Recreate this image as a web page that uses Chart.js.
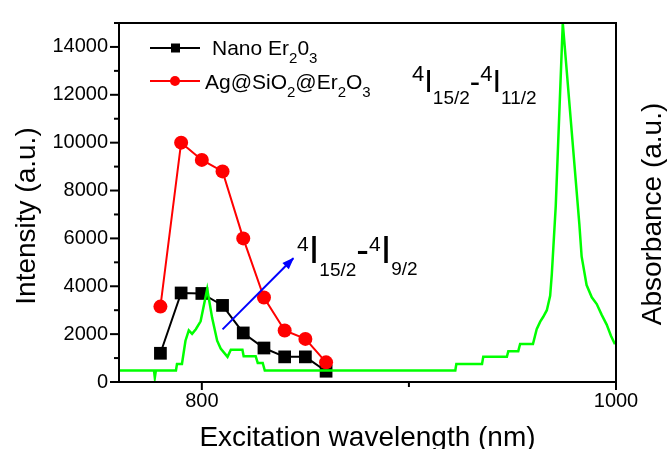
<!DOCTYPE html>
<html lang="en">
<head>
<meta charset="UTF-8">
<title>Excitation spectrum • Er2O3</title>
<script src="https://cdn.jsdelivr.net/npm/chart.js"></script>
<style>
  html, body { margin: 0; padding: 0; background: #fff; }
</style>
</head>
<body>
<canvas id="chart" width="667" height="449"></canvas>
<script>
// excitation wavelengths (nm) for both samples
const wavelengths = [780, 790, 800, 810, 820, 830, 840, 850, 860];
const nanoEr2O3   = [1200, 3720, 3700, 3200, 2050, 1420, 1050, 1050, 450];
const agSiO2Er2O3 = [3150, 10000, 9280, 8800, 6000, 3530, 2150, 1800, 820];

// absorbance trace (a.u., normalised to the 975 nm peak)
const absWl  = [760, 776.9, 777.3, 777.8, 787.5, 788, 790.4, 792.1, 793.7, 795.3, 797.1, 799.4,
                802.6, 805, 807.4, 809.1, 812.4, 814, 819.6, 820.2, 826, 827, 829.4, 830.4,
                922.4, 922.9, 935.3, 935.9, 947.3, 948, 952.8, 953.7, 959.9, 961.7, 963.4,
                964.8, 966.6, 968.2, 969, 969.8, 970.9, 974.3, 982.3, 983.4, 985.8, 988.3,
                990.7, 993.1, 995.5, 997.6, 999.5];
const absVal = [0.032, 0.032, 0.012, 0.032, 0.032, 0.05, 0.05, 0.115, 0.144, 0.134, 0.147, 0.169,
                0.259, 0.178, 0.115, 0.093, 0.07, 0.09, 0.09, 0.072, 0.072, 0.053, 0.053, 0.032,
                0.032, 0.05, 0.05, 0.07, 0.07, 0.086, 0.086, 0.106, 0.106, 0.147, 0.168,
                0.181, 0.2, 0.24, 0.3, 0.38, 0.49, 1.0, 0.44, 0.35, 0.27, 0.236,
                0.217, 0.187, 0.16, 0.128, 0.105];

// blue arrow towards the 4I15/2-4I9/2 band
const arrowWl  = [810, 844.2];
const arrowInt = [2200, 5170];

const xTicks = [800, 900, 1000];
const xLabelled = [800, 1000];
const yTicks = [0, 2000, 4000, 6000, 8000, 10000, 12000, 14000];

const FONT = '"Liberation Sans", Arial, sans-serif';
const pts = (xs, ys) => xs.map((v, i) => ({x: v, y: ys[i]}));

function richText(ctx, x, y, parts) {
  // parts: [text, font size, baseline shift]
  ctx.textAlign = 'left';
  ctx.textBaseline = 'alphabetic';
  for (const [t, size, dy] of parts) {
    ctx.font = size + 'px ' + FONT;
    ctx.fillText(t, x, y + dy);
    x += ctx.measureText(t).width;
  }
}

function seg(ctx, x1, y1, x2, y2) {
  ctx.beginPath(); ctx.moveTo(x1, y1); ctx.lineTo(x2, y2); ctx.stroke();
}

const decor = {
  id: 'decor',
  afterDatasetsDraw(chart) {
    // arrow head on the blue line
    const {ctx} = chart;
    const m = chart.getDatasetMeta(3).data;
    const p0 = m[0], p1 = m[1];
    const ang = Math.atan2(p1.y - p0.y, p1.x - p0.x);
    ctx.save();
    ctx.translate(p1.x, p1.y);
    ctx.rotate(ang);
    ctx.fillStyle = '#0000ff';
    ctx.beginPath();
    ctx.moveTo(1, 0); ctx.lineTo(-11, -4.5); ctx.lineTo(-11, 4.5);
    ctx.closePath(); ctx.fill();
    ctx.restore();
  },
  afterDraw(chart) {
    const {ctx, chartArea: a, scales: {x, y}} = chart;
    ctx.save();
    ctx.strokeStyle = '#000';
    ctx.fillStyle = '#000';
    ctx.lineWidth = 2;
    ctx.strokeRect(a.left, a.top, a.right - a.left, a.bottom - a.top);

    // ticks, outward
    for (let v = 0; v <= 15000; v += 1000) {
      const py = y.getPixelForValue(v);
      seg(ctx, a.left - (v % 2000 ? 5 : 9), py, a.left, py);
    }
    for (const v of xTicks) {
      const px = x.getPixelForValue(v);
      seg(ctx, px, a.bottom, px, a.bottom + (xLabelled.includes(v) ? 8 : 5));
    }

    // axis titles
    ctx.font = '28px ' + FONT;
    ctx.textAlign = 'center';
    ctx.textBaseline = 'alphabetic';
    ctx.fillText('Excitation wavelength (nm)', (a.left + a.right) / 2, 446);
    ctx.save(); ctx.translate(35, 216); ctx.rotate(-Math.PI / 2);
    ctx.fillText('Intensity (a.u.)', 0, 0); ctx.restore();
    ctx.save(); ctx.translate(661, 214); ctx.rotate(-Math.PI / 2);
    ctx.fillText('Absorbance (a.u.)', 0, 0); ctx.restore();

    // legend
    const lx = a.left + 31, ly1 = a.top + 25, ly2 = a.top + 58;
    ctx.lineWidth = 2;
    ctx.strokeStyle = '#000';
    seg(ctx, lx, ly1, lx + 50, ly1);
    ctx.fillRect(lx + 21, ly1 - 4.5, 9, 9);
    ctx.strokeStyle = '#ff0000'; ctx.fillStyle = '#ff0000';
    seg(ctx, lx, ly2, lx + 50, ly2);
    ctx.beginPath(); ctx.arc(lx + 25, ly2, 5, 0, Math.PI * 2); ctx.fill();
    ctx.fillStyle = '#000';
    richText(ctx, lx + 62, ly1 + 7, [['Nano Er', 21, 0], ['2', 15, 8], ['0', 21, 0], ['3', 15, 8]]);
    richText(ctx, lx + 55, ly2 + 8, [['Ag@SiO', 21, 0], ['2', 15, 8], ['@Er', 21, 0], ['2', 15, 8],
                                      ['O', 21, 0], ['3', 15, 8]]);

    // transition labels
    richText(ctx, x.getPixelForValue(846), y.getPixelForValue(4970),
      [['4', 21, -12], ['I', 38, 0], ['15/2', 19, 13], ['-', 38, 0], ['4', 21, -12], ['I', 38, 0], ['9/2', 19, 12]]);
    richText(ctx, x.getPixelForValue(901.5), y.getPixelForValue(12130),
      [['4', 22, -11], ['I', 31, 0], ['15/2', 19, 12], ['-', 31, 0], ['4', 22, -11], ['I', 31, 0], ['11/2', 19, 12]]);
    ctx.restore();
  }
};

new Chart(document.getElementById('chart'), {
  type: 'scatter',
  data: {
    datasets: [
      { label: 'Nano Er2O3', data: pts(wavelengths, nanoEr2O3), showLine: true,
        borderColor: '#000', backgroundColor: '#000', borderWidth: 2,
        pointStyle: 'rect', pointRadius: 9, pointBorderWidth: 0, order: 4 },
      { label: 'Ag@SiO2@Er2O3', data: pts(wavelengths, agSiO2Er2O3), showLine: true,
        borderColor: '#ff0000', backgroundColor: '#ff0000', borderWidth: 2,
        pointStyle: 'circle', pointRadius: 7, pointBorderWidth: 0, order: 3 },
      { label: 'Absorbance', data: pts(absWl, absVal), showLine: true, yAxisID: 'y2',
        borderColor: '#00ff00', borderWidth: 2.5, pointRadius: 0, tension: 0, order: 2 },
      { label: 'arrow', data: pts(arrowWl, arrowInt), showLine: true,
        borderColor: '#0000ff', borderWidth: 2, pointRadius: 0, order: 1 }
    ]
  },
  options: {
    responsive: false,
    animation: false,
    layout: { padding: { top: 12, right: 51, left: 0, bottom: 0 } },
    plugins: { legend: { display: false }, tooltip: { enabled: false } },
    scales: {
      x: {
        type: 'linear', min: 760, max: 1000,
        grid: { display: false, drawTicks: false }, border: { display: false },
        afterBuildTicks: s => { s.ticks = xTicks.map(v => ({value: v})); },
        afterFit: s => { s.height = 67; },
        ticks: { autoSkip: false, color: '#000', font: { family: FONT, size: 20 }, padding: 7,
                 callback: v => xLabelled.includes(v) ? String(v) : '' }
      },
      y: {
        min: 0, max: 15000,
        grid: { display: false, drawTicks: false }, border: { display: false },
        afterBuildTicks: s => { s.ticks = yTicks.map(v => ({value: v})); },
        afterFit: s => { s.width = 119; },
        ticks: { autoSkip: false, color: '#000', font: { family: FONT, size: 20 }, padding: 11,
                 callback: v => String(v) }
      },
      y2: { display: false, min: 0, max: 1 }
    }
  },
  plugins: [decor]
});
</script>
</body>
</html>
